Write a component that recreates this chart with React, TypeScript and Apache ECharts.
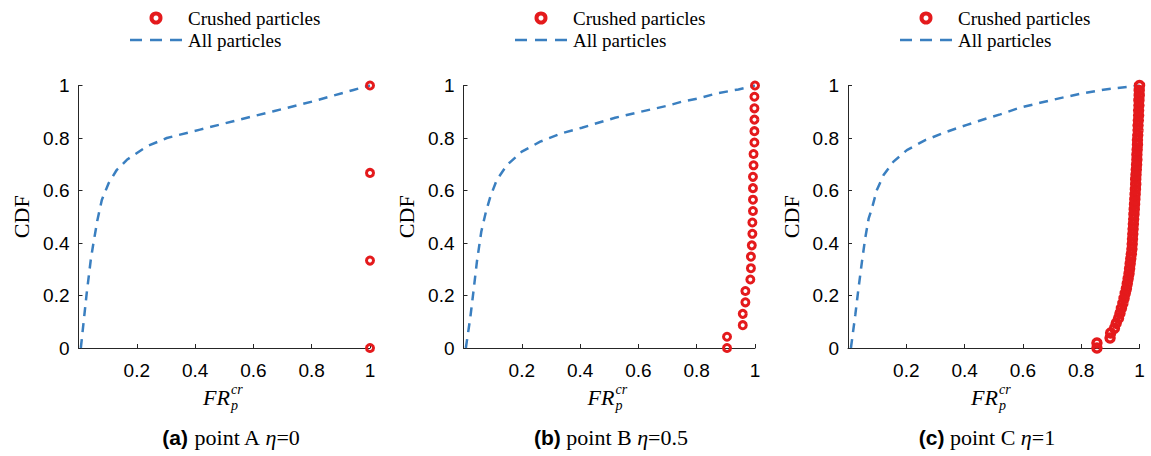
import React, { useEffect, useRef } from 'react';
import * as echarts from 'echarts';

// ---------- data ----------
const panelCaptions = ['(a)', '(b)', '(c)'];
const panelPoints = ['point A ', 'point B ', 'point C '];
const panelEta = ['=0', '=0.5', '=1'];
const seriesNames = ['Crushed particles', 'All particles'];

// All particles (dashed CDF curves)
const aAllX = [0.008, 0.028, 0.042, 0.051, 0.065, 0.08, 0.103, 0.131, 0.166, 0.234, 0.303, 0.417, 0.531, 0.669, 0.806, 0.943, 1];
const aAllY = [0, 0.207, 0.335, 0.398, 0.488, 0.564, 0.627, 0.678, 0.717, 0.768, 0.8, 0.832, 0.864, 0.902, 0.94, 0.983, 1];

const bAllX = [0.008, 0.023, 0.034, 0.046, 0.061, 0.077, 0.092, 0.114, 0.149, 0.2, 0.263, 0.337, 0.406, 0.474, 0.52, 0.6, 0.7, 0.748, 0.806, 0.869, 0.943, 1];
const bAllY = [0, 0.113, 0.214, 0.329, 0.443, 0.519, 0.576, 0.64, 0.697, 0.748, 0.786, 0.818, 0.839, 0.862, 0.877, 0.898, 0.923, 0.938, 0.951, 0.97, 0.985, 1];

const cAllX = [0.01, 0.025, 0.036, 0.048, 0.059, 0.071, 0.082, 0.099, 0.122, 0.156, 0.202, 0.265, 0.339, 0.408, 0.477, 0.522, 0.591, 0.659, 0.728, 0.796, 0.876, 1];
const cAllY = [0, 0.126, 0.227, 0.33, 0.418, 0.494, 0.532, 0.602, 0.659, 0.71, 0.754, 0.792, 0.824, 0.85, 0.875, 0.89, 0.916, 0.934, 0.952, 0.968, 0.984, 1];

// Crushed particles (red circles)
const aCrX = [1, 1, 1, 1];
const aCrY = [0, 0.333, 0.667, 1];

const bCrX = [0.904, 0.904, 0.958, 0.958, 0.967, 0.967, 0.984, 0.986, 0.986, 0.989, 0.991, 0.991, 0.993, 0.993, 0.993, 0.993, 0.995, 0.995, 0.998, 0.998, 0.998, 0.998, 0.998, 1];
const bCrY = [0, 0.043, 0.087, 0.13, 0.174, 0.217, 0.261, 0.304, 0.348, 0.391, 0.435, 0.478, 0.522, 0.565, 0.609, 0.652, 0.696, 0.739, 0.783, 0.826, 0.87, 0.913, 0.957, 1];

const cCrX = [0.854, 0.854, 0.899, 0.901, 0.914, 0.92, 0.928, 0.933, 0.938, 0.943, 0.947, 0.951, 0.955, 0.958, 0.961, 0.964, 0.966, 0.968, 0.97, 0.972, 0.974, 0.975, 0.976, 0.977, 0.978, 0.979, 0.98, 0.981, 0.982, 0.983, 0.984, 0.985, 0.986, 0.987, 0.987, 0.988, 0.989, 0.99, 0.991, 0.991, 0.992, 0.993, 0.993, 0.994, 0.995, 0.995, 0.996, 0.997, 0.997, 0.998, 0.998, 0.999, 0.999, 1];
const cCrY = [0, 0.019, 0.038, 0.057, 0.075, 0.094, 0.113, 0.132, 0.151, 0.17, 0.189, 0.208, 0.226, 0.245, 0.264, 0.283, 0.302, 0.321, 0.34, 0.358, 0.377, 0.396, 0.415, 0.434, 0.453, 0.472, 0.491, 0.509, 0.528, 0.547, 0.566, 0.585, 0.604, 0.623, 0.642, 0.66, 0.679, 0.698, 0.717, 0.736, 0.755, 0.774, 0.792, 0.811, 0.83, 0.849, 0.868, 0.887, 0.906, 0.925, 0.943, 0.962, 0.981, 1];

const allX = [aAllX, bAllX, cAllX];
const allY = [aAllY, bAllY, cAllY];
const crX = [aCrX, bCrX, cCrX];
const crY = [aCrY, bCrY, cCrY];

// ---------- styles ----------
const RED = '#e41a1c';
const BLUE = '#3a7fc0';
const SERIF = 'Liberation Serif';
const SANS = 'Liberation Sans';

const gridLefts = [78.5, 463.5, 848];
const gridWidth = 291.5;
const gridTop = 85.5;
const gridHeight = 262.5;
const captionCenters = [231, 611, 987];
const frCenters = [230, 614.5, 998];
const legendLefts = [130, 515, 900];

function zip(xs: number[], ys: number[]) {
  return xs.map((x, i) => [x, ys[i]]);
}

function txt(x: number, y: number, text: string, size: number, align: string, italic = false) {
  return {
    type: 'text', x, y,
    style: {
      text, fontFamily: SERIF, fontSize: size, fontStyle: italic ? 'italic' : 'normal',
      fill: '#000', align, verticalAlign: 'middle',
    },
  };
}

export default function App() {
  const ref = useRef<HTMLDivElement>(null);
  useEffect(() => {
    if (!ref.current) return;
    const chart = echarts.init(ref.current, null, { renderer: 'svg' });

    const grids = gridLefts.map((l) => ({ left: l, top: gridTop, width: gridWidth, height: gridHeight, containLabel: false }));
    const axisLine = { show: true, lineStyle: { color: '#262626', width: 1 } };
    const axisTick = { show: true, inside: true, length: 4, lineStyle: { color: '#262626', width: 1 } };

    const xAxes = gridLefts.map((_, i) => ({
      type: 'value', gridIndex: i, min: 0, max: 1, interval: 0.2,
      axisLine, axisTick, splitLine: { show: false },
      axisLabel: {
        margin: 13, color: '#000', fontFamily: SANS, fontSize: 19,
        formatter: (v: number) => (v === 0 ? '' : String(Math.round(v * 10) / 10)),
      },
    }));
    const yAxes = gridLefts.map((_, i) => ({
      type: 'value', gridIndex: i, min: 0, max: 1, interval: 0.2,
      axisLine, axisTick, splitLine: { show: false },
      name: 'CDF', nameLocation: 'middle', nameGap: 46,
      nameTextStyle: { fontFamily: SERIF, fontSize: 22, color: '#000' },
      axisLabel: {
        margin: 9, color: '#000', fontFamily: SANS, fontSize: 19,
        formatter: (v: number) => String(Math.round(v * 10) / 10),
      },
    }));

    const series: any[] = [];
    gridLefts.forEach((_, i) => {
      series.push({
        name: seriesNames[1], type: 'line', xAxisIndex: i, yAxisIndex: i,
        data: zip(allX[i], allY[i]), showSymbol: false, symbol: 'none', smooth: false,
        lineStyle: { color: BLUE, width: 2.5, type: [9, 7] }, itemStyle: { color: BLUE },
        z: 2,
      });
      series.push({
        name: seriesNames[0], type: 'scatter', xAxisIndex: i, yAxisIndex: i,
        data: zip(crX[i], crY[i]), symbol: 'circle', symbolSize: i === 2 ? 8 : 7,
        itemStyle: { color: 'rgba(255,255,255,0)', borderColor: RED, borderWidth: i === 2 ? 3.5 : 3, opacity: 1 },
        clip: false, z: 3,
      });
    });

    const graphics: any[] = [];
    gridLefts.forEach((_, i) => {
      const o = legendLefts[i];
      // legend
      graphics.push({
        type: 'circle', shape: { cx: o + 26, cy: 18, r: 4.5 },
        style: { fill: 'none', stroke: RED, lineWidth: 4 },
      });
      graphics.push(txt(o + 58, 18, seriesNames[0], 19, 'left'));
      graphics.push({
        type: 'line', shape: { x1: o, y1: 40, x2: o + 53, y2: 40 },
        style: { stroke: BLUE, lineWidth: 2.5, lineDash: [12, 8] },
      });
      graphics.push(txt(o + 58, 40, seriesNames[1], 19, 'left'));
      // x axis name FR_p^cr
      graphics.push(txt(frCenters[i], 397, 'FR', 22, 'right', true));
      graphics.push(txt(frCenters[i] + 1, 389, 'cr', 14, 'left', true));
      graphics.push(txt(frCenters[i] + 1, 405, 'p', 14, 'left', true));
      // caption
      graphics.push({
        type: 'text', x: captionCenters[i], y: 437,
        style: {
          text: `{b|${panelCaptions[i]}}{r| ${panelPoints[i]}}{i|η}{r|${panelEta[i]}}`,
          align: 'center', verticalAlign: 'middle',
          rich: {
            b: { fontFamily: SANS, fontWeight: 'bold', fontSize: 21, fill: '#000', color: '#000' },
            r: { fontFamily: SERIF, fontSize: 22, fill: '#000', color: '#000' },
            i: { fontFamily: SERIF, fontStyle: 'italic', fontSize: 22, fill: '#000', color: '#000' },
          },
        },
      });
    });

    chart.setOption({
      animation: false,
      backgroundColor: '#fff',
      grid: grids,
      xAxis: xAxes,
      yAxis: yAxes,
      series,
      graphic: graphics,
    });
    return () => chart.dispose();
  }, []);
  return <div ref={ref} style={{ position: 'fixed', left: 0, top: 0, width: 1151, height: 456 }} />;
}
